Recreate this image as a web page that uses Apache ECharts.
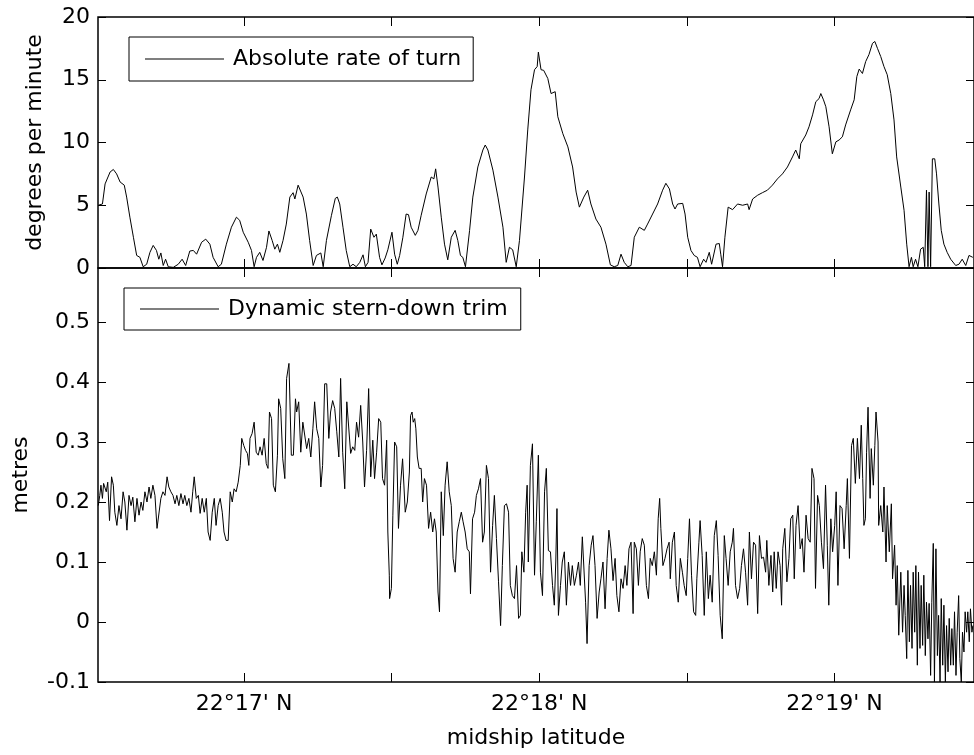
<!DOCTYPE html>
<html><head><meta charset="utf-8">
<script src="https://cdn.jsdelivr.net/npm/echarts@6/dist/echarts.min.js"></script>
<style>html,body{margin:0;padding:0;background:#fff}#c{width:974px;height:755px}</style>
</head><body><div id="c"></div>
<script>
// ---- data (latitude in minutes past 22°N) ----
const turnLat = [
16.506,16.520,16.529,16.546,16.557,16.568,16.580,16.594,16.602,16.613,16.625,16.636,16.647,16.658,16.670,16.681,16.692,16.703,16.711,16.718,
16.726,16.734,16.743,16.760,16.777,16.790,16.802,16.816,16.828,16.839,16.856,16.870,16.884,16.895,16.912,16.923,16.940,16.957,16.974,16.985,
16.997,17.014,17.025,17.034,17.042,17.053,17.064,17.076,17.084,17.095,17.104,17.113,17.121,17.132,17.143,17.155,17.166,17.172,17.183,17.189,
17.200,17.211,17.222,17.234,17.245,17.260,17.268,17.279,17.296,17.309,17.316,17.324,17.335,17.346,17.358,17.369,17.380,17.392,17.403,17.411,
17.420,17.429,17.440,17.448,17.459,17.467,17.478,17.487,
17.501,17.510,17.519,17.527,17.538,17.549,17.557,17.566,17.580,17.589,17.600,17.617,17.634,17.643,17.649,17.657,17.668,17.679,17.690,17.702,
17.715,17.724,17.733,17.741,17.750,17.764,17.775,17.792,17.809,17.817,17.826,17.843,17.860,17.877,17.888,17.899,17.910,17.922,17.933,17.950,
17.961,17.972,17.984,17.993,17.997,18.006,18.015,18.029,18.040,18.054,18.063,18.080,18.097,18.113,18.125,18.136,18.151,18.164,18.175,18.192,
18.209,18.226,18.241,18.254,18.266,18.277,18.288,18.300,18.311,18.322,18.339,18.356,18.367,18.384,18.401,18.418,18.429,18.441,18.452,18.460,
18.469,
18.474,18.486,18.494,18.503,18.514,18.525,18.536,18.545,18.557,18.565,18.576,18.584,18.599,18.610,18.615,18.621,18.629,18.640,18.655,18.672,
18.689,18.706,18.711,18.723,18.740,18.756,18.773,18.790,18.807,18.824,18.841,18.858,18.869,18.881,18.886,18.903,18.914,18.926,18.937,18.948,
18.954,18.963,18.971,18.982,18.993,19.005,19.016,19.027,19.038,19.055,19.067,19.076,19.084,19.095,19.106,19.117,19.129,19.137,19.146,19.157,
19.168,19.179,19.191,19.202,19.211,19.225,19.236,19.245,19.253,19.261,19.267,19.275,19.283,19.292,19.301,19.306,19.312,19.317,19.321,19.326,
19.332,19.340,19.346,19.354,19.362,19.371,19.382,19.394,19.411,19.422,19.433,19.445,19.456,19.469
];
const turnRate = [
5.0,5.1,6.7,7.65,7.85,7.5,6.85,6.6,5.65,4.05,2.45,1.0,0.85,0.1,0.3,1.25,1.8,1.4,0.7,1.2,
0.2,0.7,0.1,0.05,0.3,0.7,0.2,1.35,1.4,1.1,2.05,2.3,1.9,0.85,0.1,0.3,1.9,3.25,4.05,3.8,
2.85,2.05,1.4,0.1,0.85,1.25,0.6,1.65,2.95,2.2,1.5,1.9,1.25,2.2,3.5,5.65,6.0,5.5,6.6,6.65,
5.65,4.3,2.2,0.2,1.0,1.2,0.1,2.2,4.2,5.55,5.65,5.1,3.25,1.4,0.1,0.3,0.1,0.45,1.05,0.1,
0.45,3.1,2.45,2.7,0.85,0.25,0.8,1.45,
2.85,1.1,0.3,1.0,2.45,4.3,4.25,3.25,2.6,3.0,4.2,5.9,7.25,7.1,7.9,6.45,4.05,1.9,0.65,2.45,
3.0,2.2,1.0,0.85,0.1,3.0,5.65,8.05,9.4,9.8,9.4,7.8,5.65,3.25,0.45,1.65,1.45,0.1,2.2,7.25,
11.0,14.2,15.8,16.05,17.2,15.8,15.75,15.1,13.9,14.05,12.05,10.7,9.65,8.05,6.05,4.85,5.65,6.2,5.1,3.9,
3.25,1.9,0.25,0.1,0.2,1.1,0.45,0.1,0.2,2.45,3.25,3.0,3.5,4.3,5.1,6.2,6.75,6.3,5.1,4.7,
5.1,
5.0,5.15,4.3,2.45,1.4,1.0,0.85,0.1,0.7,0.45,1.25,0.3,1.9,1.95,1.1,0.1,2.45,4.85,4.65,5.1,
5.0,5.1,4.65,5.5,5.8,6.0,6.2,6.6,7.1,7.5,8.05,8.85,9.4,8.7,9.9,10.6,11.25,12.2,13.25,13.5,
13.9,13.4,12.85,11.25,9.1,10.05,10.2,10.45,11.4,12.6,13.4,15.25,15.85,15.5,16.45,17.0,17.9,18.05,17.5,16.85,
16.05,15.4,13.9,11.8,8.85,6.45,4.6,1.9,0.1,0.85,0.1,0.7,0.1,1.5,1.65,0.1,6.2,0.1,6.05,0.1,
8.7,8.7,7.5,5.1,3.0,1.9,1.25,0.7,0.2,0.3,0.7,0.2,1.0,0.85
];
const trimLat = [
16.506,16.511,16.515,16.520,16.524,16.529,16.533,16.538,16.544,16.551,
16.557,16.562,16.569,16.576,16.583,16.590,16.596,16.603,16.610,16.617,
16.623,16.630,16.637,16.644,16.651,16.657,16.664,16.671,16.678,16.684,
16.691,16.698,16.705,16.711,16.718,16.725,16.732,16.739,16.745,16.752,
16.759,16.766,16.772,16.779,16.786,16.793,16.799,16.806,16.813,16.820,
16.826,16.831,16.838,16.845,16.851,16.858,16.865,16.872,16.878,16.885,
16.892,16.899,16.905,16.912,16.919,16.926,16.932,16.939,16.946,16.953,
16.960,16.966,16.973,16.980,16.987,16.992,16.999,17.005,17.011,17.016,
17.020,17.027,17.034,17.041,17.048,17.054,17.061,17.068,17.075,17.081,
17.086,17.093,17.099,17.106,17.113,17.117,17.124,17.131,17.138,17.144,
17.152,17.160,17.167,17.174,17.178,17.185,17.192,17.199,17.205,17.212,
17.219,17.226,17.233,17.239,17.246,17.253,17.260,17.266,17.273,17.280,
17.287,17.293,17.300,17.307,17.314,17.321,17.327,17.334,17.341,17.348,
17.354,17.361,17.368,17.375,17.381,17.388,17.395,17.402,17.408,17.415,
17.422,17.429,17.436,17.442,17.449,17.456,17.463,17.469,17.476,17.483,
17.487,17.492,
17.493,17.499,17.504,17.510,17.517,17.523,17.530,17.537,17.542,17.546,
17.553,17.560,17.564,17.569,17.573,17.578,17.582,17.587,17.593,17.600,
17.605,17.611,17.618,17.625,17.632,17.639,17.645,17.651,17.657,17.662,
17.668,17.675,17.681,17.688,17.695,17.702,17.708,17.715,17.722,17.729,
17.736,17.742,17.749,17.756,17.763,17.767,17.774,17.781,17.787,17.794,
17.801,17.808,17.814,17.821,17.828,17.835,17.842,17.848,17.855,17.862,
17.869,17.875,17.882,17.889,17.896,17.902,17.909,17.916,17.923,17.930,
17.936,17.941,17.948,17.954,17.959,17.963,17.970,17.977,17.984,17.990,
17.997,18.004,18.011,18.018,18.024,18.031,18.038,18.045,18.051,18.056,
18.060,18.065,18.072,18.078,18.085,18.092,18.099,18.106,18.112,18.119,
18.126,18.133,18.139,18.146,18.151,18.157,18.162,18.169,18.176,18.182,
18.189,18.196,18.203,18.209,18.216,18.223,18.230,18.236,18.243,18.250,
18.257,18.263,18.270,18.277,18.284,18.291,18.297,18.304,18.311,18.318,
18.322,18.329,18.336,18.342,18.349,18.356,18.363,18.370,18.376,18.383,
18.390,18.397,18.403,18.408,18.412,18.419,18.426,18.433,18.440,18.444,
18.451,18.458,18.464,18.471,
18.478,18.485,18.491,18.498,18.503,18.509,18.516,18.523,18.530,18.534,
18.541,18.545,18.552,18.559,18.566,18.573,18.579,18.586,18.593,18.600,
18.606,18.613,18.620,18.627,18.633,18.640,18.647,18.654,18.658,18.665,
18.672,18.679,18.685,18.692,18.699,18.706,18.712,18.719,18.726,18.733,
18.740,18.746,18.753,18.760,18.767,18.771,18.778,18.785,18.791,18.796,
18.803,18.809,18.816,18.821,18.825,18.832,18.839,18.846,18.852,18.859,
18.864,18.870,18.877,18.884,18.891,18.897,18.904,18.911,18.918,18.924,
18.931,18.936,18.943,18.949,18.956,18.963,18.970,18.976,18.981,18.988,
18.994,19.001,19.006,19.012,19.019,19.026,19.033,19.040,19.044,19.051,
19.058,19.064,19.071,19.078,19.085,19.091,19.096,19.100,19.105,19.109,
19.114,19.121,19.125,19.132,19.137,19.141,19.148,19.150,19.157,19.164,
19.168,19.175,19.179,19.186,19.193,19.197,19.204,19.209,19.213,19.218,
19.225,19.231,19.236,19.240,19.245,19.249,19.254,19.258,19.263,19.267,
19.272,19.276,19.281,19.285,19.290,19.294,19.299,19.303,19.308,19.312,
19.317,19.321,19.326,19.330,19.335,19.339,19.344,19.349,19.353,19.358,
19.362,19.367,19.371,19.376,19.380,19.385,19.389,19.394,19.398,19.403,
19.407,19.412,19.416,19.421,19.425,19.430,19.434,19.439,19.443,19.448,
19.452,19.457,19.461,19.466,19.469
];
const trimMetres = [
0.194,0.211,0.228,0.206,0.231,0.233,0.217,0.233,0.169,0.242,
0.228,0.183,0.161,0.194,0.172,0.217,0.2,0.153,0.211,0.194,
0.208,0.167,0.206,0.178,0.2,0.186,0.217,0.2,0.225,0.206,
0.228,0.211,0.156,0.156,0.206,0.217,0.211,0.242,0.225,0.217,
0.211,0.197,0.211,0.194,0.214,0.197,0.211,0.194,0.206,0.183,
0.217,0.242,0.206,0.211,0.181,0.206,0.183,0.206,0.15,0.136,
0.183,0.206,0.161,0.194,0.206,0.183,0.15,0.136,0.136,0.217,
0.2,0.222,0.217,0.233,0.261,0.306,0.294,0.286,0.281,0.261,
0.306,0.314,0.333,0.283,0.278,0.292,0.278,0.306,0.264,0.256,
0.35,0.339,0.228,0.217,0.278,0.372,0.356,0.272,0.239,0.406,
0.431,0.278,0.278,0.372,0.35,0.367,0.283,0.333,0.333,0.289,
0.306,0.275,0.322,0.367,0.322,0.306,0.225,0.261,0.397,0.397,
0.306,0.35,0.369,0.356,0.317,0.275,0.406,0.283,0.222,0.367,
0.367,0.281,0.292,0.286,0.333,0.308,0.361,0.3,0.225,0.286,
0.389,0.242,0.303,0.239,0.283,0.339,0.333,0.239,0.228,0.303,
0.15,0.078,
0.039,0.056,0.178,0.3,0.292,0.156,0.228,0.272,0.275,0.183,
0.2,0.25,0.344,0.35,0.333,0.339,0.322,0.275,0.256,0.256,
0.2,0.239,0.228,0.156,0.183,0.15,0.172,0.15,0.05,0.017,
0.217,0.144,0.228,0.267,0.217,0.194,0.106,0.083,0.15,0.167,
0.183,0.167,0.15,0.122,0.117,0.047,0.172,0.183,0.211,0.222,
0.239,0.133,0.15,0.261,0.239,0.083,0.161,0.211,0.139,0.067,
-0.006,0.094,0.194,0.197,0.183,0.061,0.044,0.039,0.094,0.006,
0.011,0.117,0.083,0.183,0.228,0.1,0.261,0.297,0.078,0.167,
0.278,0.083,0.044,0.217,0.256,0.119,0.117,0.061,0.028,0.1,
0.189,0.011,0.061,0.1,0.117,0.028,0.1,0.061,0.094,0.061,
0.078,0.1,0.061,0.142,0.142,0.033,-0.036,0.094,0.128,0.144,
0.094,0.006,0.05,0.072,0.1,0.022,0.106,0.153,0.122,0.069,
0.106,0.044,0.017,0.072,0.056,0.094,0.061,0.122,0.133,0.014,
0.133,0.122,0.061,0.117,0.139,0.128,0.061,0.039,0.106,0.094,
0.117,0.078,0.172,0.206,0.156,0.094,0.106,0.122,0.133,0.072,
0.133,0.15,0.061,0.033,
0.106,0.083,0.061,0.044,0.106,0.172,0.078,0.017,0.011,0.072,
0.133,0.169,0.111,0.011,0.117,0.039,0.078,0.033,0.144,0.169,
0.111,0.011,-0.028,0.144,0.106,0.061,0.117,0.133,0.156,0.061,
0.039,0.056,0.094,0.122,0.083,0.028,0.15,0.072,0.133,0.128,
0.014,0.144,0.106,0.108,0.083,0.136,0.061,0.111,0.05,0.117,
0.056,0.117,0.094,0.028,0.122,0.156,0.067,0.106,0.172,0.178,
0.072,0.161,0.194,0.122,0.139,0.083,0.178,0.139,0.133,0.256,
0.239,0.056,0.211,0.194,0.133,0.089,0.228,0.128,0.028,0.172,
0.117,0.161,0.217,0.061,0.194,0.189,0.122,0.194,0.239,0.106,
0.294,0.306,0.231,0.306,0.239,0.328,0.239,0.161,0.172,0.283,
0.358,0.206,0.289,0.228,0.294,0.35,0.3,0.161,0.194,0.15,
0.225,0.1,0.194,0.117,0.197,0.072,0.128,0.028,0.094,-0.022,
0.083,-0.017,0.061,0.011,-0.061,0.086,-0.033,0.061,-0.044,0.083,
-0.017,0.094,-0.072,0.083,-0.044,0.061,-0.039,0.078,-0.056,0.033,
-0.028,0.031,-0.089,0.033,0.131,-0.1,0.122,-0.056,0.011,-0.1,
0.039,-0.072,0.028,-0.1,-0.006,-0.083,0.006,-0.072,-0.011,-0.072,
0.017,-0.089,-0.017,0.044,-0.061,-0.1,-0.017,-0.05,0.017,-0.017,
0.017,-0.033,0.022,-0.017,-0.006
];
const latTicks = [17, 17.5, 18, 18.5, 19];
const latLabelValues = [17, 18, 19];
const latLabelText = ["22°17' N", "22°18' N", "22°19' N"];
const turnTicks = [0, 5, 10, 15, 20];
const trimTicks = [-0.1, 0, 0.1, 0.2, 0.3, 0.4, 0.5];

// ---- chart ----
const FONT = 'DejaVu Sans';
const FS = 22;
const LAT_MIN = 16.505, LAT_MAX = 19.473;
const chart = echarts.init(document.getElementById('c'), null, {renderer: 'canvas'});

function zip(xs, ys) {
  const n = Math.min(xs.length, ys.length);
  const out = [];
  for (let i = 0; i < n; i++) out.push([xs[i], ys[i]]);
  return out;
}
const tickStyle = {color: '#000', width: 1};
function xAxis(gridIndex, position, labels, name) {
  return {
    type: 'value', gridIndex, position, min: LAT_MIN, max: LAT_MAX,
    axisLine: {show: false, onZero: false}, splitLine: {show: false},
    axisTick: {show: true, inside: true, length: 9, customValues: latTicks, lineStyle: tickStyle},
    axisLabel: {
      show: labels, customValues: latLabelValues, margin: 11,
      formatter: v => { const i = latLabelValues.indexOf(Math.round(v)); return i >= 0 ? latLabelText[i] : ''; },
      color: '#000', fontFamily: FONT, fontSize: FS
    },
    name: name || '', nameLocation: 'middle', nameGap: 45,
    nameTextStyle: {color: '#000', fontFamily: FONT, fontSize: FS}
  };
}
function yAxis(gridIndex, position, labels, min, max, ticks, name, gap, fmt) {
  return {
    type: 'value', gridIndex, position, min, max,
    axisLine: {show: false, onZero: false}, splitLine: {show: false},
    axisTick: {show: true, inside: true, length: 8, customValues: ticks, lineStyle: tickStyle},
    axisLabel: {show: labels, customValues: ticks, margin: 8, formatter: fmt,
      color: '#000', fontFamily: FONT, fontSize: FS},
    name: name || '', nameLocation: 'middle', nameRotate: 90, nameGap: gap || 0,
    nameTextStyle: {color: '#000', fontFamily: FONT, fontSize: FS}
  };
}
const fmtInt = v => String(Math.round(v));
const fmtDec = v => String(Math.round(v * 10) / 10);

const legendBase = {
  orient: 'horizontal', itemWidth: 79, itemHeight: 1, itemGap: 0,
  borderColor: '#000', borderWidth: 1, backgroundColor: '#fff', borderRadius: 0,
  selectedMode: false, itemStyle: {color: '#000', borderWidth: 0},
  textStyle: {fontFamily: FONT, fontSize: FS, color: '#000', padding: [0, 0, 0, 4]}
};

const option = {
  animation: false,
  backgroundColor: '#fff',
  grid: [
    {left: 98, top: 17, width: 877, height: 251, show: true, borderColor: '#000', borderWidth: 1.5, backgroundColor: 'transparent'},
    {left: 98, top: 268, width: 877, height: 414, show: true, borderColor: '#000', borderWidth: 1.5, backgroundColor: 'transparent'}
  ],
  xAxis: [
    xAxis(0, 'bottom', false),
    xAxis(0, 'top', false),
    xAxis(1, 'bottom', true, 'midship latitude'),
    xAxis(1, 'top', false)
  ],
  yAxis: [
    yAxis(0, 'left', true, 0, 20, turnTicks, 'degrees per minute', 52, fmtInt),
    yAxis(0, 'right', false, 0, 20, turnTicks),
    yAxis(1, 'left', true, -0.1, 0.59, trimTicks, 'metres', 66, fmtDec),
    yAxis(1, 'right', false, -0.1, 0.59, trimTicks)
  ],
  legend: [
    Object.assign({}, legendBase, {data: [{name: 'Absolute rate of turn', icon: 'rect'}], left: 129, top: 37, padding: [11, 12, 11, 16]}),
    Object.assign({}, legendBase, {data: [{name: 'Dynamic stern-down trim', icon: 'rect'}], left: 124, top: 288, padding: [10, 13, 10, 16]})
  ],
  series: [
    {
      name: 'Absolute rate of turn', type: 'line', xAxisIndex: 0, yAxisIndex: 0,
      data: zip(turnLat, turnRate), symbol: 'none', showSymbol: false, silent: true,
      lineStyle: {color: '#000', width: 1}, itemStyle: {color: '#000'}
    },
    {
      name: 'Dynamic stern-down trim', type: 'line', xAxisIndex: 2, yAxisIndex: 2,
      data: zip(trimLat, trimMetres), symbol: 'none', showSymbol: false, silent: true,
      lineStyle: {color: '#000', width: 1}, itemStyle: {color: '#000'}
    }
  ]
};
chart.setOption(option);
</script>
</body></html>
